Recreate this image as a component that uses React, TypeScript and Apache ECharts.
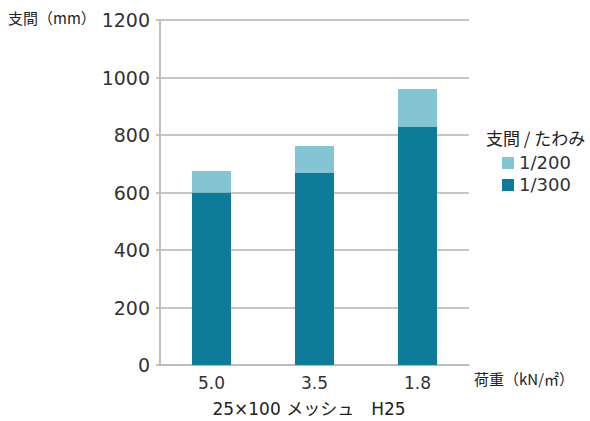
import React, { useEffect, useRef } from "react";
import * as echarts from "echarts";

const categories = ["5.0", "3.5", "1.8"];
const span300 = [600, 670, 830];
const span200Extra = [75, 92, 130];
const seriesNames = ["1/200", "1/300"];
const yTicks = [0, 200, 400, 600, 800, 1000, 1200];

const FONT = "'Noto Sans CJK JP', 'Noto Sans', sans-serif";
const NUMFONT = "'DejaVu Sans', 'Noto Sans CJK JP', sans-serif";

export default function App() {
  const ref = useRef<HTMLDivElement>(null);
  useEffect(() => {
    document.body.style.margin = "0";
    const chart = echarts.init(ref.current!, null, { renderer: "svg" });
    chart.setOption({
      animation: false,
      backgroundColor: "#ffffff",
      textStyle: { fontFamily: FONT },
      grid: { left: 160, right: 121, top: 20, bottom: 56, containLabel: false },
      title: {
        text: "25×100 メッシュ　H25",
        left: 309,
        textAlign: "center",
        top: 400,
        padding: 0,
        textStyle: { fontFamily: NUMFONT, fontSize: 17, fontWeight: "normal", color: "#222" },
      },
      legend: {
        orient: "vertical",
        left: 497,
        top: 149,
        data: seriesNames,
        icon: "rect",
        itemWidth: 12,
        itemHeight: 12,
        itemGap: 4,
        textStyle: { fontFamily: NUMFONT, fontSize: 18, color: "#333" },
      },
      graphic: [
        {
          type: "text",
          left: 8,
          top: 10,
          style: { text: "支間（mm）", fontFamily: FONT, fontSize: 15, fill: "#222" },
        },
        {
          type: "text",
          left: 486,
          top: 129,
          style: { text: "支間 / たわみ", fontFamily: FONT, fontSize: 17, fill: "#222" },
        },
      ],
      xAxis: {
        type: "category",
        data: categories,
        name: "荷重（kN/㎡）",
        nameLocation: "end",
        nameGap: 5,
        nameTextStyle: { fontFamily: FONT, fontSize: 15, color: "#222", verticalAlign: "top", padding: [6, 0, 0, 0] },
        axisLine: { lineStyle: { color: "#b8b8b8", width: 1.5 } },
        axisTick: { show: false },
        axisLabel: { fontFamily: NUMFONT, fontSize: 17, color: "#333", margin: 9 },
      },
      yAxis: {
        type: "value",
        min: 0,
        max: yTicks[yTicks.length - 1],
        interval: 200,
        axisLine: { show: true, lineStyle: { color: "#c0c0c0", width: 2 } },
        axisTick: { show: true, length: 4, lineStyle: { color: "#b3b3b3", width: 1.5 } },
        splitLine: { lineStyle: { color: "#b3b3b3", width: 1.5 } },
        axisLabel: {
          fontFamily: NUMFONT,
          fontSize: 19,
          color: "#333",
          margin: 10,
          formatter: (v: number) => String(v),
        },
      },
      series: [
        {
          name: "1/300",
          type: "bar",
          stack: "s",
          data: span300,
          barWidth: 39,
          itemStyle: { color: "#0f7b9b" },
        },
        {
          name: "1/200",
          type: "bar",
          stack: "s",
          data: span200Extra,
          barWidth: 39,
          itemStyle: { color: "#83c5d2" },
        },
      ],
    });
    return () => chart.dispose();
  }, []);
  return <div ref={ref} style={{ width: 590, height: 421 }} />;
}
